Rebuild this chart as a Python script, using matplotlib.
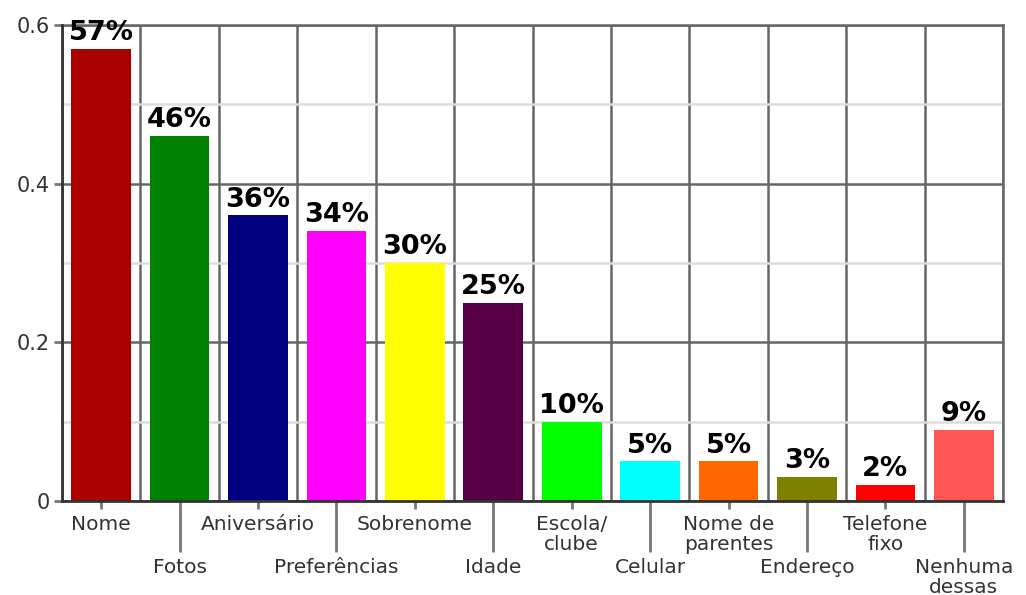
import matplotlib.pyplot as plt
import numpy as np

categorias = ['Nome', 'Fotos', 'Aniversário', 'Preferências', 'Sobrenome', 'Idade',
              'Escola/\nclube', 'Celular', 'Nome de\nparentes', 'Endereço',
              'Telefone\nfixo', 'Nenhuma\ndessas']
valores = [0.57, 0.46, 0.36, 0.34, 0.30, 0.25, 0.10, 0.05, 0.05, 0.03, 0.02, 0.09]
rotulos = ['57%', '46%', '36%', '34%', '30%', '25%', '10%', '5%', '5%', '3%', '2%', '9%']
cores = ['#aa0000', '#008000', '#000080', '#ff00ff', '#ffff00', '#550044',
         '#00ff00', '#00ffff', '#ff6600', '#808000', '#ff0000', '#ff5555']

fig = plt.figure(figsize=(10.26, 5.95), dpi=100)
ax = fig.add_axes([62/1026, 1 - 501/595, (1003 - 62)/1026, (501 - 25)/595])

x = np.arange(len(categorias))
ax.bar(x, valores, width=0.76, color=cores, zorder=3)
for xi, v, r in zip(x, valores, rotulos):
    ax.annotate(r, (xi, v), xytext=(0, 2), textcoords='offset points',
                ha='center', va='bottom', fontsize=19.5, fontweight='bold',
                color='black', zorder=4)

ax.set_xlim(-0.5, len(categorias) - 0.5)
ax.set_ylim(0, 0.6)

# grade vertical nas divisas das categorias
for b in np.arange(-0.5, len(categorias)):
    ax.axvline(b, color='#666666', linewidth=1.8, zorder=1)

ax.set_yticks([0, 0.2, 0.4, 0.6])
ax.set_yticklabels(['0', '0.2', '0.4', '0.6'])
ax.set_yticks([0.1, 0.3, 0.5], minor=True)
ax.grid(which='major', axis='y', color='#666666', linewidth=1.8, zorder=1)
ax.grid(which='minor', axis='y', color='#dddddd', linewidth=1.8, zorder=1)
ax.tick_params(axis='y', which='minor', length=0)

# rótulos alternados: pares em cima (tick curto), ímpares embaixo (tick longo)
ax.set_xticks(x[::2])
ax.set_xticklabels(categorias[::2], linespacing=1.05)
ax.set_xticks(x[1::2], minor=True)
ax.set_xticklabels(categorias[1::2], minor=True, linespacing=1.05)
ax.tick_params(axis='x', which='major', length=6, pad=4)
ax.tick_params(axis='x', which='minor', length=37, pad=4)
ax.tick_params(axis='both', which='both', labelsize=14.5, labelcolor='#333333',
               color='#777777', width=2)
ax.tick_params(axis='y', which='major', length=6, pad=3, labelsize=15)

for s in ['left', 'bottom']:
    ax.spines[s].set_color('#333333')
    ax.spines[s].set_linewidth(2)
    ax.spines[s].set_zorder(5)
for s in ['top', 'right']:
    ax.spines[s].set_color('#666666')
    ax.spines[s].set_linewidth(1.8)

fig.savefig('out.png', dpi=100)
